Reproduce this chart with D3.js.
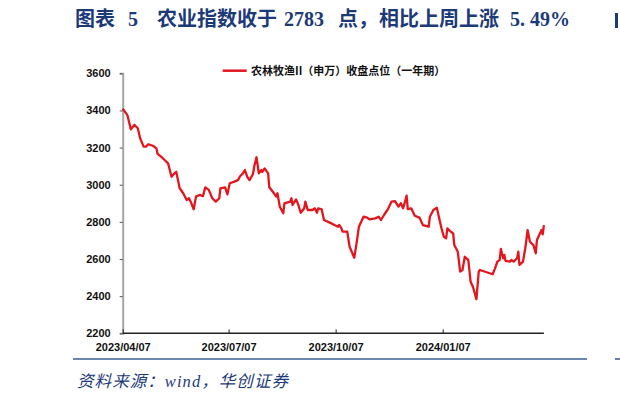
<!DOCTYPE html>
<html><head><meta charset="utf-8">
<script src="https://cdn.jsdelivr.net/npm/d3@7"></script>
<style>html,body{margin:0;padding:0;background:#fff;overflow:hidden}</style>
</head><body>
<svg id="c" width="620" height="401"></svg>
<script>
const titleParts = ["图表", "5", "农业指数收于", "2783", "点，", "相比上周上涨", "5. 49%"];
const legendLabel = "农林牧渔II（申万）收盘点位（一年期）";
const sourceText = "资料来源：wind，华创证券";
const yTicks = [2200, 2400, 2600, 2800, 3000, 3200, 3400, 3600];
const xTickLabels = ["2023/04/07", "2023/07/07", "2023/10/07", "2024/01/07"];
const dates = ["2023-04-07","2023-04-11","2023-04-14","2023-04-17","2023-04-20","2023-04-22","2023-04-25","2023-04-27","2023-04-29","2023-05-03",
"2023-05-06","2023-05-07","2023-05-10","2023-05-13","2023-05-16","2023-05-19","2023-05-20","2023-05-23","2023-05-26","2023-05-29",
"2023-06-01","2023-06-03","2023-06-05","2023-06-07","2023-06-09","2023-06-12","2023-06-15","2023-06-17","2023-06-20","2023-06-23",
"2023-06-26","2023-06-29","2023-06-30","2023-07-04","2023-07-06","2023-07-08","2023-07-12","2023-07-15","2023-07-17","2023-07-19",
"2023-07-21","2023-07-23","2023-07-25","2023-07-28","2023-07-29","2023-07-31","2023-08-02","2023-08-04","2023-08-05","2023-08-07",
"2023-08-10","2023-08-11","2023-08-14","2023-08-17","2023-08-18","2023-08-20","2023-08-23","2023-08-24","2023-08-29","2023-08-30",
"2023-08-31","2023-09-03","2023-09-05","2023-09-07","2023-09-10","2023-09-11","2023-09-13","2023-09-17","2023-09-19","2023-09-21",
"2023-09-22","2023-09-25","2023-09-27","2023-10-02","2023-10-06","2023-10-09","2023-10-10","2023-10-12","2023-10-13","2023-10-17",
"2023-10-19","2023-10-23","2023-10-25","2023-10-27","2023-10-31","2023-11-03","2023-11-05","2023-11-10","2023-11-13","2023-11-15",
"2023-11-18","2023-11-21","2023-11-24","2023-11-27","2023-11-30","2023-12-02","2023-12-04","2023-12-06","2023-12-07","2023-12-08",
"2023-12-11","2023-12-14","2023-12-18","2023-12-21","2023-12-26","2023-12-27","2023-12-30","2024-01-02","2024-01-04","2024-01-06",
"2024-01-08","2024-01-10","2024-01-11","2024-01-14","2024-01-16","2024-01-17","2024-01-20","2024-01-22","2024-01-24","2024-01-26",
"2024-01-29","2024-01-31","2024-02-02","2024-02-05","2024-02-07","2024-02-08","2024-02-19","2024-02-21","2024-02-23","2024-02-25",
"2024-02-26","2024-02-28","2024-02-29","2024-03-01","2024-03-05","2024-03-06","2024-03-08","2024-03-11","2024-03-12","2024-03-13",
"2024-03-16","2024-03-18","2024-03-20","2024-03-22","2024-03-25","2024-03-27","2024-03-28","2024-04-01","2024-04-02","2024-04-03"];
const values = [3410,3375,3298,3322,3304,3250,3205,3205,3218,3210,
3196,3166,3151,3133,3115,3043,3052,3070,2981,2954,
2918,2927,2900,2868,2936,2945,2939,2986,2972,2927,
2909,2927,2981,2986,2948,3008,3017,3025,3047,3058,
3079,3043,3025,3058,3097,3148,3061,3079,3070,3088,
3061,2986,2962,2936,2954,2882,2846,2900,2909,2927,
2891,2921,2891,2849,2873,2909,2864,2864,2873,2849,
2873,2868,2810,2796,2783,2774,2783,2765,2747,2747,
2666,2607,2684,2774,2828,2823,2814,2819,2828,2810,
2841,2869,2909,2912,2882,2900,2873,2918,2941,2869,
2873,2833,2823,2783,2774,2828,2864,2876,2819,2765,
2720,2711,2765,2747,2738,2675,2639,2532,2541,2612,
2595,2478,2451,2384,2532,2541,2518,2550,2586,2595,
2655,2604,2622,2590,2586,2595,2586,2604,2640,2568,
2586,2658,2756,2693,2675,2631,2702,2756,2733,2783];

const parse = d3.timeParse("%Y-%m-%d");
const parseTick = d3.timeParse("%Y/%m/%d");
const data = dates.map((d, i) => ({date: parse(d), value: values[i]}));

const svg = d3.select("#c");
const x = d3.scaleTime().domain([parse("2023-04-07"), parse("2024-04-03")]).range([122.7, 543.9]);
const y = d3.scaleLinear().domain([2200, 3600]).range([333.3, 73.3]);

// title
const navy = "#1c3a78";
const titleX = [75, 128, 157, 284, 338, 379, 510];
const title = svg.append("text").attr("y", 26)
  .attr("font-family", "'Liberation Serif','Noto Sans CJK SC',serif").attr("font-weight", "bold")
  .attr("font-size", 20).attr("fill", navy);
titleParts.forEach((t, i) => title.append("tspan").attr("x", titleX[i]).text(t));
// sliver of the neighbouring chart's title at the right edge
svg.append("rect").attr("x", 615).attr("y", 13).attr("width", 3).attr("height", 15).attr("fill", navy);

// y axis
const yAxis = d3.axisLeft(y).tickValues(yTicks).tickSize(3).tickPadding(9).tickFormat(d3.format("d"));
const gy = svg.append("g").attr("transform", `translate(${x.range()[0]},0)`).call(yAxis);
gy.select(".domain").attr("stroke", "#a6a6a6").attr("stroke-width", 2);
gy.selectAll(".tick line").attr("stroke", "#555");
gy.selectAll(".tick text").attr("font-family", "'Liberation Sans',Arial,sans-serif")
  .attr("font-weight", "bold").attr("font-size", 11).attr("fill", "#111");

// x axis
const xAxis = d3.axisBottom(x).tickValues(xTickLabels.map(parseTick)).tickSize(-4).tickPadding(8)
  .tickFormat(d3.timeFormat("%Y/%m/%d"));
const gx = svg.append("g").attr("transform", `translate(0,${y.range()[0]})`).call(xAxis);
gx.select(".domain").attr("stroke", "#222").attr("stroke-width", 1.5).attr("d", `M${x.range()[0]},0H${x.range()[1]}`);
gx.selectAll(".tick line").attr("stroke", "#222");
gx.selectAll(".tick text").attr("font-family", "'Liberation Sans',Arial,sans-serif")
  .attr("font-weight", "bold").attr("font-size", 11).attr("fill", "#111").attr("dy", "0.9em");

// line
const line = d3.line().x(d => x(d.date)).y(d => y(d.value));
svg.append("path").datum(data).attr("d", line).attr("fill", "none")
  .attr("stroke", "#e3151d").attr("stroke-width", 2.3).attr("stroke-linejoin", "round");

// legend
svg.append("line").attr("x1", 222.7).attr("x2", 246.7).attr("y1", 70.7).attr("y2", 70.7)
  .attr("stroke", "#e3151d").attr("stroke-width", 2.5);
svg.append("text").attr("x", 251).attr("y", 74.7)
  .attr("font-family", "'Noto Sans CJK SC',sans-serif").attr("font-weight", "bold")
  .attr("font-size", 11).attr("fill", "#111").text(legendLabel);

// bottom rule
svg.append("line").attr("x1", 73).attr("x2", 587).attr("y1", 359).attr("y2", 359)
  .attr("stroke", "#3d5f96").attr("stroke-width", 1.6);
svg.append("line").attr("x1", 615).attr("x2", 620).attr("y1", 359).attr("y2", 359)
  .attr("stroke", "#3d5f96").attr("stroke-width", 1.6);

// source
svg.append("text").attr("x", 77).attr("y", 387)
  .attr("font-family", "'Liberation Serif','Noto Sans CJK SC',serif").attr("font-style", "italic")
  .attr("font-size", 16.5).attr("textLength", 211).attr("lengthAdjust", "spacing")
  .attr("fill", navy).text(sourceText);
</script>
</body></html>
